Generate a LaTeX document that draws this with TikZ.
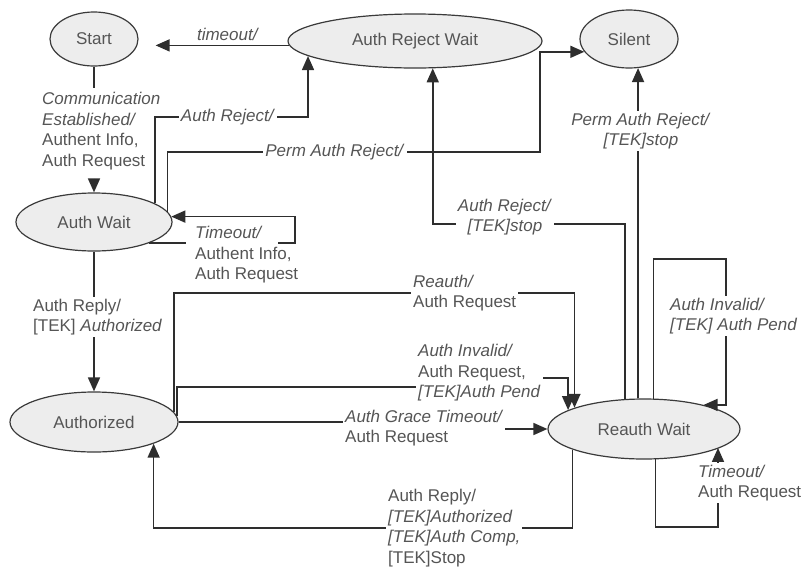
\documentclass[tikz,border=0pt]{standalone}
\usepackage{fontspec}
\setmainfont{Liberation Sans}
\usetikzlibrary{arrows.meta,shapes.geometric}
\definecolor{edgegray}{HTML}{2E2E2E}
\definecolor{textgray}{HTML}{555555}
\definecolor{statefill}{HTML}{EDEDED}
\definecolor{stateline}{HTML}{3A3A3A}
\begin{document}
\begin{tikzpicture}[x=1pt,y=-1pt,
  every node/.style={font=\fontsize{17}{20.5}\selectfont, text=textgray},
  state/.style={ellipse, draw=stateline, fill=statefill, line width=1.2pt, inner sep=0pt},
  arr/.style={draw=edgegray, line width=1.6pt, -{Triangle[length=14pt,width=12pt]}},
  lbl/.style={fill=white, inner sep=2pt, align=left},
  lblnf/.style={inner sep=2pt, align=left},
]
\useasboundingbox (0,0) rectangle (806,571);

% states
\node[state, minimum width=88pt,  minimum height=54pt] (start)      at (94,39)   {Start};
\node[state, minimum width=254pt, minimum height=54pt] (arw)        at (415,41)  {Auth Reject Wait};
\node[state, minimum width=98pt,  minimum height=58pt] (silent)     at (629,39)  {Silent};
\node[state, minimum width=156pt, minimum height=58pt] (authwait)   at (94,222)  {Auth Wait};
\node[state, minimum width=168pt, minimum height=60pt] (authorized) at (94,422)  {Authorized};
\node[state, minimum width=192pt, minimum height=60pt] (reauth)     at (644,429) {Reauth Wait};

\coordinate (awloop) at (295,230);
\coordinate (rwloop) at (718,527);

% transitions
\draw[arr, shorten >=17pt] (arw.182.8) -- (arw.182.8 -| start.east);
\draw[arr] (start.south) -- ++(0,21) ++(0,91) -- (authwait.north);
\draw[arr] (authwait.17.8) |- (230,117) -| (arw.188.1);
\draw[arr] (authwait.8.8) |- (540,152) |- (silent.196.5);
\draw[arr] (authwait.-21) -- ++(37,0) ++(92,0) -| (awloop) |- (authwait.4.5);
\draw[arr] (authwait.south) -- (authorized.north);
\draw[arr] (authorized.7.4) |- (400,293) -| (reauth.163.1);
\draw[arr] (authorized.4) |- (470,387) -- (470,378) -| (reauth.166.5);
\draw[arr] (authorized.east) -- (420,422) -- (420,429) -- (reauth.west);
\draw[arr] (reauth.196.9) |- (400,528) -| (authorized.-20.5);
\draw[arr] (reauth.122.9) |- (500,224) -| (arw.-57.6);
\draw[arr] (reauth.101.3) -- (reauth.101.3 |- silent.-72.5);
\draw[arr] (reauth.73.3) |- (726,259) |- (reauth.22.6);
\draw[arr] (reauth.-69.7) |- (rwloop) -- (rwloop |- reauth.-14.5);

% transition labels
\node[lblnf] (ltimeout) at (228,34) {\textit{timeout/}};
\node[lblnf, anchor=west] (lcomm) at (40,131)
  {\textit{Communication}\\\textit{Established/}\\Authent Info,\\Auth Request};
\node[lbl] (lreject) at (228,117) {\textit{Auth Reject/}};
\node[lbl] (lperm) at (335,152) {\textit{Perm Auth Reject/}};
\node[lblnf, anchor=west] (lawloop) at (193,255)
  {\textit{Timeout/}\\Authent Info,\\Auth Request};
\node[lbl, anchor=west] (lreply) at (31,317) {Auth Reply/\\{[TEK]} \textit{Authorized}};
\node[lbl, anchor=west] (lreauth) at (411,293) {\textit{Reauth/}\\Auth Request};
\node[lbl, anchor=west] (linvalid) at (416,373)
  {\textit{Auth Invalid/}\\Auth Request,\\\textit{[TEK]Auth Pend}};
\node[lbl, anchor=west] (lgrace) at (343,428) {\textit{Auth Grace Timeout/}\\Auth Request};
\node[lbl, anchor=west] (lreply2) at (386,528)
  {Auth Reply/\\\textit{[TEK]Authorized}\\\textit{[TEK]Auth Comp,}\\{[TEK]}Stop};
\node[lbl, align=center] (lrejstop) at (505,217) {\textit{Auth Reject/}\\\textit{[TEK]stop}};
\node[lbl, align=center] (lpermstop) at (641,131) {\textit{Perm Auth Reject/}\\\textit{[TEK]stop}};
\node[lbl, anchor=west] (lrwinvalid) at (668,316) {\textit{Auth Invalid/}\\\textit{[TEK] Auth Pend}};
\node[lbl, anchor=west] (lrwtimeout) at (696,483) {\textit{Timeout/}\\Auth Request};
\end{tikzpicture}
\end{document}
